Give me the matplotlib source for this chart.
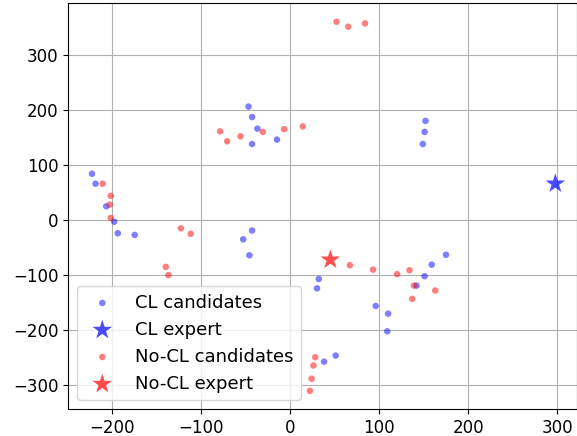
import matplotlib
matplotlib.use('Agg')
import matplotlib.pyplot as plt

# CL candidate embeddings (x, y)
cl_x = [-47, -43, -37, -43, -15, -223, -219, -207, 152, 151, 149,
        -198, -194, -175, -53, -43, -46, 32, 30, 175, 159, 151, 142,
        96, 110, 109, 38, 51]
cl_y = [206, 187, 166, 138, 146, 84, 66, 25, 180, 160, 138,
        -3, -24, -27, -35, -19, -64, -107, -124, -63, -81, -102, -119,
        -156, -170, -202, -257, -246]

# No-CL candidate embeddings
nocl_x = [-79, -71, -56, -31, -7, 14, 52, 65, 84,
          -211, -202, -203, -202, -123, -112, -140, -137,
          28, 26, 24, 22, 67, 93, 120, 134, 139, 137, 163]
nocl_y = [161, 143, 152, 160, 165, 170, 360, 351, 357,
          66, 44, 28, 4, -15, -25, -85, -100,
          -249, -264, -288, -310, -82, -90, -98, -91, -119, -143, -128]

# experts
cl_expert = (298, 66)
nocl_expert = (45, -72)

fig = plt.figure(figsize=(5.77, 4.36), dpi=100)
ax = fig.add_axes([68 / 577, 27 / 436, 508.5 / 577, 406 / 436])

ax.scatter(cl_x, cl_y, s=22, color='blue', alpha=0.5, edgecolors='none', label='CL candidates')
ax.scatter(*cl_expert, s=220, marker='*', color='blue', alpha=0.7, edgecolors='none', label='CL expert')
ax.scatter(nocl_x, nocl_y, s=22, color='red', alpha=0.5, edgecolors='none', label='No-CL candidates')
ax.scatter(*nocl_expert, s=220, marker='*', color='red', alpha=0.7, edgecolors='none', label='No-CL expert')

ax.set_xlim(-250, 321.8)
ax.set_ylim(-343, 394)
ax.set_xticks([-200, -100, 0, 100, 200, 300])
ax.set_yticks([-300, -200, -100, 0, 100, 200, 300])
ax.tick_params(labelsize=12)
ax.grid(True)
ax.set_axisbelow(True)
ax.legend(loc='lower left', fontsize=13)

fig.savefig('out.png', dpi=100)
